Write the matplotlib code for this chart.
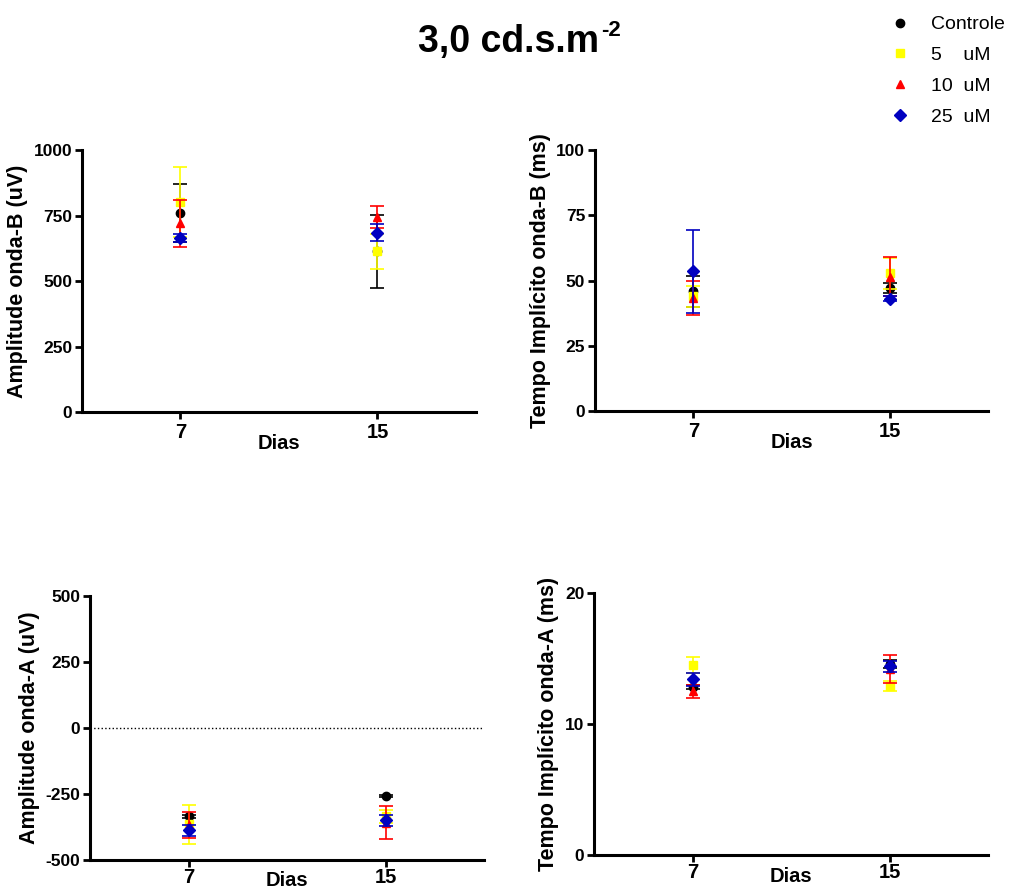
import matplotlib
matplotlib.use("Agg")
import matplotlib.pyplot as plt
from matplotlib.lines import Line2D

plt.rcParams['font.family'] = ['Liberation Sans', 'DejaVu Sans']
plt.rcParams['axes.unicode_minus'] = False

dias = [7, 15]
grupos = ["Controle", "5    uM", "10  uM", "25  uM"]
cores = ["black", "#FFFF00", "#FF0000", "#0000C0"]
marcadores = ["o", "s", "^", "D"]

# Amplitude onda-B (uV)
ampB_media = [[760, 613], [802, 613], [720, 744], [664, 684]]
ampB_erro = [[110, 138], [134, 68], [90, 43], [15, 33]]

# Tempo implicito onda-B (ms)
tempoB_media = [[46.0, 47.2], [44.0, 52.9], [43.5, 51.5], [53.6, 43.2]]
tempoB_erro = [[6, 2], [4, 6], [6.5, 7.5], [16, 1]]

# Amplitude onda-A (uV)
ampA_media = [[-334, -258], [-365, -335], [-368, -358], [-388, -350]]
ampA_erro = [[6, 4], [74, 25], [49, 63], [20, 20]]

# Tempo implicito onda-A (ms)
tempoA_media = [[12.8, 14.6], [14.5, 12.9], [12.5, 14.2], [13.4, 14.4]]
tempoA_erro = [[0.15, 0.3], [0.6, 0.4], [0.5, 1.1], [0.5, 0.4]]

fig = plt.figure(figsize=(10.14, 8.91), dpi=100)

paineis = [
    ([0.0806, 0.5376, 0.3889, 0.294], ampB_media, ampB_erro, "Amplitude onda-B (uV)", (0, 1000), [0, 250, 500, 750, 1000], -6),
    ([0.5868, 0.5384, 0.3876, 0.293], tempoB_media, tempoB_erro, "Tempo Implícito onda-B (ms)", (0, 100), [0, 25, 50, 75, 100], -6),
    ([0.0888, 0.0348, 0.3886, 0.2963], ampA_media, ampA_erro, "Amplitude onda-A (uV)", (-500, 500), [-500, -250, 0, 250, 500], -12),
    ([0.5858, 0.0404, 0.3886, 0.294], tempoA_media, tempoA_erro, "Tempo Implícito onda-A (ms)", (0, 20), [0, 10, 20], -11),
]

for pos, medias, erros, ylabel, ylim, yticks, xpad in paineis:
    ax = fig.add_axes(pos)
    for i in range(len(grupos)):
        ax.errorbar(dias, medias[i], yerr=erros[i], fmt=marcadores[i], color=cores[i],
                    ecolor=cores[i], markersize=6, elinewidth=1.2, capsize=5, capthick=1.2,
                    clip_on=False, zorder=3 + i)
    if ylim[0] < 0:
        ax.axhline(0, color="black", linestyle=":", linewidth=1)
    ax.set_xlim(3, 19)
    ax.set_ylim(*ylim)
    ax.set_xticks(dias)
    ax.set_yticks(yticks)
    for s in ["top", "right"]:
        ax.spines[s].set_visible(False)
    for s in ["left", "bottom"]:
        ax.spines[s].set_linewidth(2.2)
    ax.tick_params(direction="out", length=5, width=2, pad=2)
    ax.tick_params(axis="y", labelsize=12.5)
    ax.tick_params(axis="x", labelsize=14.5, pad=3 if xpad == -6 else 1)
    for lab in ax.get_xticklabels() + ax.get_yticklabels():
        lab.set_fontweight("bold")
    ax.set_xlabel("Dias", fontsize=14.5, fontweight="bold", labelpad=xpad)
    ax.set_ylabel(ylabel, fontsize=15.5, fontweight="bold", labelpad=4)

fig.text(0.412, 0.953, "3,0 cd.s.m", fontsize=27, fontweight="bold",
         ha="left", va="center")
fig.text(0.593, 0.966, "-2", fontsize=16, fontweight="bold", ha="left", va="center")

handles = [Line2D([], [], marker=marcadores[i], color=cores[i], linestyle="none", markersize=6)
           for i in range(len(grupos))]
fig.legend(handles, grupos, loc="upper right", bbox_to_anchor=(1.008, 1.002), frameon=False,
           fontsize=14, handletextpad=1.0, labelspacing=0.68, handlelength=1.2)

fig.savefig("out.png", dpi=100)
